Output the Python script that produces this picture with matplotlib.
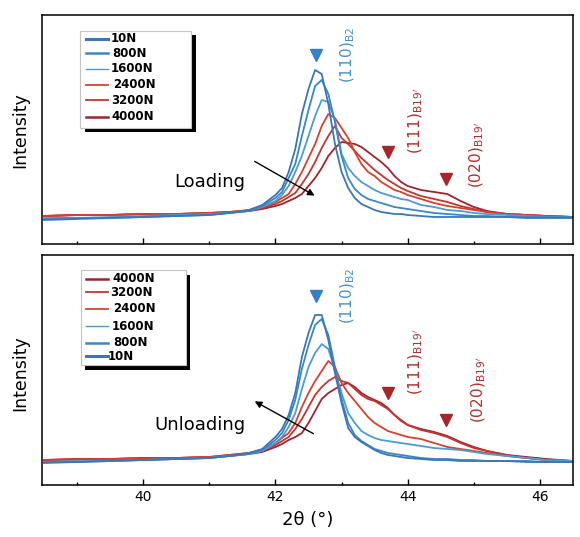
import matplotlib
matplotlib.use("Agg")
import matplotlib.pyplot as plt
from matplotlib.lines import Line2D
from matplotlib.patches import Rectangle
import numpy as np

# 2theta sample positions (deg)
two_theta = [38.5, 39.0, 39.5, 40.0, 40.5, 41.0, 41.3, 41.6, 41.8, 42.0,
	42.1, 42.2, 42.3, 42.4, 42.5, 42.6, 42.7, 42.8, 42.9, 43.0,
	43.1, 43.2, 43.3, 43.4, 43.5, 43.6, 43.7, 43.8, 43.9, 44.0,
	44.2, 44.4, 44.6, 44.8, 45.0, 45.2, 45.5, 45.8, 46.1, 46.5]

loads = ["10N", "800N", "1600N", "2400N", "3200N", "4000N"]

# loading curves (arbitrary intensity)
load_10 = [24, 25, 26, 27, 28, 29, 31, 34, 39, 49,
	56, 72, 95, 130, 155, 174, 170, 140, 100, 72,
	56, 46, 40, 37, 34, 32, 31, 30, 30, 29,
	28, 27, 27, 27, 27, 27, 27, 26, 26, 26]
load_800 = [25, 26, 26, 27, 28, 29, 31, 33, 38, 46,
	52, 66, 80, 108, 134, 158, 164, 150, 122, 88,
	66, 55, 49, 45, 43, 41, 39, 37, 36, 35,
	33, 31, 30, 29, 28, 28, 27, 27, 27, 27]
load_1600 = [26, 26, 27, 28, 29, 30, 31, 33, 37, 43,
	49, 58, 72, 88, 108, 128, 144, 142, 124, 90,
	76, 68, 62, 58, 54, 51, 49, 47, 45, 44,
	39, 37, 34, 33, 31, 30, 29, 28, 27, 27]
load_2400 = [28, 29, 29, 30, 30, 31, 32, 34, 37, 42,
	46, 50, 60, 72, 86, 100, 118, 130, 126, 116,
	106, 92, 80, 72, 68, 62, 58, 54, 52, 49,
	45, 41, 38, 36, 34, 32, 30, 29, 28, 27]
load_3200 = [28, 29, 29, 30, 30, 31, 32, 33, 36, 40,
	43, 47, 51, 60, 70, 82, 96, 108, 118, 106,
	100, 93, 86, 80, 74, 69, 64, 60, 56, 53,
	48, 45, 42, 38, 35, 32, 30, 29, 28, 27]
load_4000 = [28, 29, 29, 30, 30, 31, 32, 33, 35, 38,
	40, 43, 46, 50, 58, 66, 76, 88, 96, 102,
	101, 100, 97, 92, 87, 82, 76, 68, 62, 58,
	54, 52, 50, 43, 37, 33, 30, 29, 28, 27]

# unloading curves
unload_10 = [22, 23, 24, 25, 26, 27, 29, 32, 36, 48,
	56, 70, 92, 128, 152, 170, 170, 145, 112, 82,
	57, 48, 43, 39, 35, 32, 30, 29, 28, 27,
	26, 25, 25, 24, 24, 24, 24, 23, 23, 23]
unload_800 = [23, 23, 24, 25, 26, 27, 29, 31, 35, 45,
	52, 65, 85, 116, 140, 160, 166, 150, 118, 86,
	62, 50, 44, 40, 36, 34, 32, 31, 30, 29,
	27, 26, 26, 25, 25, 24, 24, 24, 23, 23]
unload_1600 = [23, 24, 24, 25, 26, 27, 29, 31, 34, 42,
	48, 58, 72, 96, 118, 132, 141, 136, 115, 92,
	72, 62, 54, 50, 47, 45, 44, 43, 42, 41,
	39, 37, 36, 35, 33, 31, 29, 27, 25, 24]
unload_2400 = [25, 25, 26, 26, 27, 28, 30, 32, 35, 42,
	47, 52, 62, 78, 92, 104, 114, 124, 118, 102,
	92, 84, 76, 68, 62, 58, 54, 52, 50, 48,
	46, 42, 38, 36, 34, 32, 29, 27, 25, 24]
unload_3200 = [25, 26, 26, 27, 27, 28, 30, 32, 34, 40,
	44, 48, 56, 66, 78, 90, 98, 104, 108, 104,
	102, 96, 90, 86, 84, 80, 76, 70, 64, 60,
	55, 52, 48, 42, 37, 34, 30, 27, 25, 24]
unload_4000 = [25, 26, 26, 27, 27, 28, 29, 31, 33, 38,
	41, 45, 48, 52, 62, 74, 86, 92, 96, 100,
	102, 98, 92, 88, 85, 82, 77, 70, 65, 60,
	56, 53, 49, 43, 38, 34, 30, 28, 26, 24]

# peak markers
marker_b2 = (42.62, 189)
marker_111 = (43.70, 92)
marker_020 = (44.58, 65)

colors = {"10N": "#3a77b6", "800N": "#3a86c8", "1600N": "#4c9bd4",
	"2400N": "#d8412d", "3200N": "#c5352f", "4000N": "#9e2430"}
leg_lw = {"10N": 2.2, "800N": 1.8, "1600N": 1.0,
	"2400N": 1.3, "3200N": 1.3, "4000N": 1.8}
blue_txt = "#4a8fcc"
red_txt = "#b0302c"
red_mark = "#a8262a"

W, H = 580, 537

plt.rcParams["font.family"] = ["DejaVu Sans"]

fig = plt.figure(figsize=(W / 100, H / 100), dpi=100)
axTop = fig.add_axes([42 / W, 1 - 244 / H, 531 / W, 229 / H])
axBot = fig.add_axes([42 / W, 1 - 485 / H, 531 / W, 230 / H])

x = np.array(two_theta)
loadCurves = [load_10, load_800, load_1600, load_2400, load_3200, load_4000]
unloadCurves = [unload_10, unload_800, unload_1600, unload_2400, unload_3200, unload_4000]

# plot curves, reds first so blues sit on top near the peak
for name, y in reversed(list(zip(loads, loadCurves))):
	axTop.plot(x, y, color=colors[name], lw=1.3)
for name, y in reversed(list(zip(loads, unloadCurves))):
	axBot.plot(x, y, color=colors[name], lw=1.3)

for ax, ylim in ((axTop, 229), (axBot, 230)):
	ax.set_xlim(38.47, 46.5)
	ax.set_ylim(0, ylim)
	ax.set_yticks([])
	ax.set_xticks([40, 42, 44, 46])
	ax.set_xticks([39, 41, 43, 45], minor=True)
	ax.tick_params(axis="x", which="major", direction="in", length=4, width=1, labelsize=10)
	ax.tick_params(axis="x", which="minor", direction="in", length=2.5, width=1)
	for s in ax.spines.values():
		s.set_linewidth(1.1)
	# markers
	ax.plot(*marker_b2, marker="v", color="#3580c8", ms=8, ls="none")
	ax.plot(*marker_111, marker="v", color=red_mark, ms=8, ls="none")
	ax.plot(*marker_020, marker="v", color=red_mark, ms=8, ls="none")

axTop.tick_params(axis="x", labelbottom=False)

# peak labels
axTop.text(43.09, 189, r"(110)$_{\mathrm{B2}}$", rotation=90, color=blue_txt,
	fontsize=11, ha="center", va="center")
axTop.text(44.12, 123, r"(111)$_{\mathrm{B19'}}$", rotation=90, color=red_txt,
	fontsize=11, ha="center", va="center")
axTop.text(45.04, 89, r"(020)$_{\mathrm{B19'}}$", rotation=90, color=red_txt,
	fontsize=11, ha="center", va="center")
axBot.text(43.09, 189, r"(110)$_{\mathrm{B2}}$", rotation=90, color=blue_txt,
	fontsize=11, ha="center", va="center")
axBot.text(44.12, 123, r"(111)$_{\mathrm{B19'}}$", rotation=90, color=red_txt,
	fontsize=11, ha="center", va="center")
axBot.text(45.07, 95, r"(020)$_{\mathrm{B19'}}$", rotation=90, color=red_txt,
	fontsize=11, ha="center", va="center")

# loading / unloading arrows
axTop.annotate("", xy=(42.63, 47), xytext=(41.65, 84),
	arrowprops=dict(arrowstyle="-|>", color="k", lw=1, mutation_scale=10))
axTop.text(41.55, 62, "Loading", fontsize=13, ha="right", va="center")
axBot.annotate("", xy=(41.65, 85), xytext=(42.61, 50),
	arrowprops=dict(arrowstyle="-|>", color="k", lw=1, mutation_scale=10))
axBot.text(41.55, 60, "Unloading", fontsize=13, ha="right", va="center")

# hand made legend boxes (pixel layout of the original), black drop shadow
def px(xp, yp):
	return xp / W, 1 - yp / H

def add_legend(names, box, shadow, rows, text_x):
	x0, y0, x1, y1 = box
	sx, sy = shadow
	fig.add_artist(Rectangle(px(x0 + sx, y1 + sy), (x1 - x0) / W, (y1 - y0) / H,
		transform=fig.transFigure, facecolor="black", edgecolor="none", zorder=5))
	fig.add_artist(Rectangle(px(x0, y1), (x1 - x0) / W, (y1 - y0) / H,
		transform=fig.transFigure, facecolor="white", edgecolor="#c4c4c4",
		lw=0.8, zorder=6))
	for n, yr, xt in zip(names, rows, text_x):
		fig.add_artist(Line2D([86 / W, 108 / W], [1 - yr / H] * 2, transform=fig.transFigure,
			color=colors[n], lw=leg_lw[n], zorder=7))
		fig.text(xt / W, 1 - yr / H, n, fontsize=8.5, fontweight="bold",
			ha="left", va="center", zorder=7)

add_legend(loads, (80, 31, 191, 128), (5, 4),
	[39, 53, 69, 85, 100, 117], [111, 112, 111, 113, 111, 111])
add_legend(loads[::-1], (81, 270, 186, 365), (4, 5),
	[279, 292, 309, 326, 343, 356], [112, 110, 113, 112, 113, 108])

fig.text(0.035, 0.758, "Intensity", rotation=90, fontsize=12.5, ha="center", va="center")
fig.text(0.035, 0.305, "Intensity", rotation=90, fontsize=12.5, ha="center", va="center")
axBot.set_xlabel("2θ (°)", fontsize=13, labelpad=5)

plt.savefig("out.png", dpi=100)
